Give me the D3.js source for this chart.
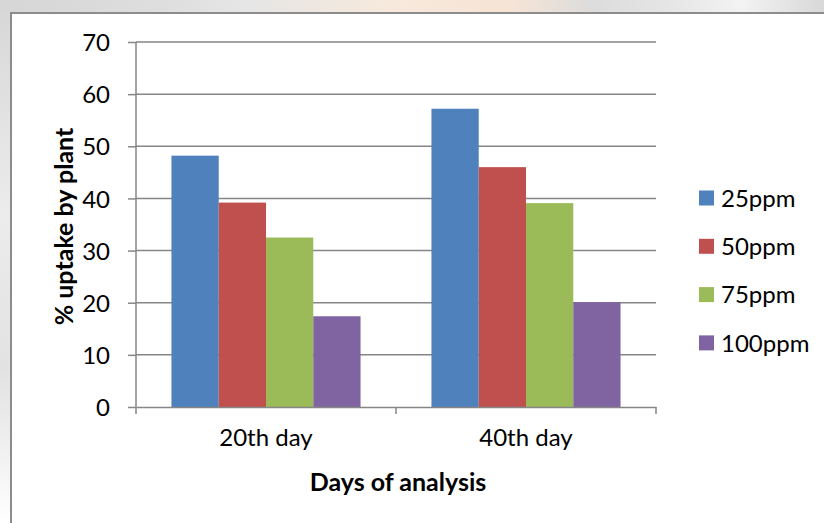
<!DOCTYPE html>
<html>
<head>
<meta charset="utf-8">
<script src="https://cdn.jsdelivr.net/npm/d3@7"></script>
<style>
  html, body { margin: 0; padding: 0; background: #ffffff; }
  svg { display: block; }
  text { font-family: Lato, "Open Sans", "Liberation Sans", sans-serif; fill: #000; }
</style>
</head>
<body>
<svg id="chart" width="824" height="523"></svg>
<script>
// Uptake (%) of the compound by plants, by concentration and day of analysis
const days = ["20th day", "40th day"];
const seriesNames = ["25ppm", "50ppm", "75ppm", "100ppm"];
const uptake25 = [48.2, 57.2];
const uptake50 = [39.2, 46.0];
const uptake75 = [32.5, 39.1];
const uptake100 = [17.4, 20.1];
const yTicks = [0, 10, 20, 30, 40, 50, 60, 70];
const palette = ["#4F81BD", "#C0504D", "#9BBB59", "#8064A2"];

const seriesValues = [uptake25, uptake50, uptake75, uptake100];
const rows = days.map((d, i) => ({
  day: d,
  values: seriesNames.map((s, k) => ({ series: s, value: seriesValues[k][i] }))
}));

const svg = d3.select("#chart");
const W = 824, H = 523;

// page backdrop around the chart frame
const defs = svg.append("defs");
const grad = defs.append("linearGradient").attr("id", "backdrop")
  .attr("x1", "0").attr("x2", "1").attr("y1", "0").attr("y2", "0");
[["0", "#d6d6d6"], ["0.2", "#dedede"], ["0.3", "#e6e6e6"], ["0.47", "#f7e9dc"],
 ["0.62", "#f6e4d6"], ["0.72", "#dcdcdc"], ["0.8", "#e4e4e4"], ["0.9", "#f3f3f3"], ["1", "#d8d8d8"]]
  .forEach(([o, c]) => grad.append("stop").attr("offset", o).attr("stop-color", c));
svg.append("rect").attr("x", 0).attr("y", 0).attr("width", W).attr("height", H).attr("fill", "url(#backdrop)");
const gradL = defs.append("linearGradient").attr("id", "backdropLeft")
  .attr("x1", "0").attr("x2", "0").attr("y1", "0").attr("y2", "1");
[["0", "#d8d8d8"], ["0.4", "#ececec"], ["0.7", "#e2e2e2"], ["0.9", "#f4f4f4"], ["1", "#ffffff"]]
  .forEach(([o, c]) => gradL.append("stop").attr("offset", o).attr("stop-color", c));
svg.append("rect").attr("x", 0).attr("y", 12).attr("width", 10).attr("height", H - 12).attr("fill", "url(#backdropLeft)");

// chart frame
svg.append("rect").attr("x", 11).attr("y", 13).attr("width", W).attr("height", H)
  .attr("fill", "#ffffff").attr("stroke", "#8c8c8c").attr("stroke-width", 2);

const plot = { left: 136, right: 656, top: 42, bottom: 407 };

const x0 = d3.scaleBand().domain(days).range([plot.left, plot.right]).paddingInner(0).paddingOuter(0);
const x1 = d3.scaleBand().domain(seriesNames).range([0, x0.bandwidth()]).paddingInner(0).paddingOuter(0.75);
const y = d3.scaleLinear().domain([0, 70]).range([plot.bottom, plot.top]);
const color = d3.scaleOrdinal().domain(seriesNames).range(palette);

// horizontal gridlines with outside tick marks
const yAxis = svg.append("g").attr("transform", `translate(${plot.left},0)`)
  .call(d3.axisLeft(y).tickValues(yTicks).tickSize(8).tickPadding(18).tickFormat(d3.format("d")));
yAxis.select(".domain").remove();
yAxis.selectAll(".tick line").attr("stroke", "#868686").attr("stroke-width", 1.5);
yAxis.selectAll(".tick text").style("font-size", "24px").attr("dy", "0.36em");

svg.append("g").selectAll("line").data(yTicks.filter(t => t > 0)).join("line")
  .attr("x1", plot.left).attr("x2", plot.right)
  .attr("y1", d => y(d)).attr("y2", d => y(d))
  .attr("stroke", "#868686").attr("stroke-width", 1.5);

// bars
const groups = svg.append("g").selectAll("g").data(rows).join("g")
  .attr("transform", d => `translate(${x0(d.day)},0)`);
groups.selectAll("rect").data(d => d.values).join("rect")
  .attr("x", d => x1(d.series))
  .attr("y", d => y(d.value))
  .attr("width", x1.bandwidth())
  .attr("height", d => y(0) - y(d.value))
  .attr("fill", d => color(d.series));

// vertical axis line
svg.append("line").attr("x1", plot.left).attr("x2", plot.left)
  .attr("y1", plot.top).attr("y2", plot.bottom)
  .attr("stroke", "#868686").attr("stroke-width", 1.5);

// category axis
const xAxis = svg.append("g").attr("transform", `translate(0,${plot.bottom})`)
  .call(d3.axisBottom(x0).tickSize(0).tickPadding(22));
xAxis.select(".domain").attr("stroke", "#868686").attr("stroke-width", 1.5);
xAxis.selectAll(".tick text").style("font-size", "24px");
svg.append("g").selectAll("line").data([plot.left, x0(days[1]), plot.right]).join("line")
  .attr("x1", d => d).attr("x2", d => d)
  .attr("y1", plot.bottom).attr("y2", plot.bottom + 7)
  .attr("stroke", "#868686").attr("stroke-width", 1.5);

// axis titles
svg.append("text")
  .attr("x", (plot.left + plot.right) / 2 + 2).attr("y", 491)
  .attr("text-anchor", "middle").style("font-size", "25px").style("font-weight", "bold")
  .text("Days of analysis");
svg.append("text")
  .attr("transform", `translate(73,${(plot.top + plot.bottom) / 2 + 2}) rotate(-90)`)
  .attr("text-anchor", "middle").style("font-size", "25px").style("font-weight", "bold")
  .text("% uptake by plant");

// legend
const legend = svg.append("g").attr("transform", "translate(699,198)");
const items = legend.selectAll("g").data(seriesNames).join("g")
  .attr("transform", (d, i) => `translate(0,${i * 48.3})`);
items.append("rect").attr("x", 0).attr("y", -7.5).attr("width", 15).attr("height", 15)
  .attr("fill", d => color(d));
items.append("text").attr("x", 22).attr("y", 0).attr("dy", "0.36em")
  .style("font-size", "24px").text(d => d);
</script>
</body>
</html>
